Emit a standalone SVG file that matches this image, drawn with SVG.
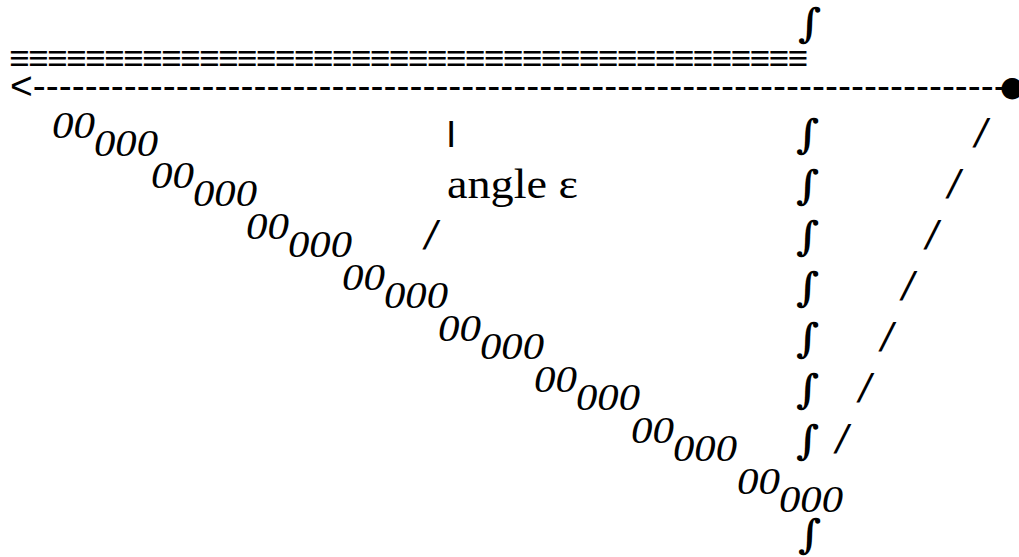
<svg xmlns="http://www.w3.org/2000/svg" width="1019" height="557" viewBox="0 0 1019 557">
<style>
text{fill:#000}
.it{font-family:"Liberation Serif",serif;font-style:italic;font-size:38px}
.ser{font-family:"Liberation Serif",serif;font-size:43px}
.int{font-family:"DejaVu Serif",serif;font-size:40px;font-weight:bold}
.sl{font-family:"DejaVu Sans",sans-serif;font-style:oblique;font-size:36px}
.sans{font-family:"Liberation Sans",sans-serif}
</style>
<rect width="1019" height="557" fill="#fff"/>
<g id="top-rules">
<text class="sans" x="9" y="70" font-size="35" font-weight="bold" textLength="799" lengthAdjust="spacing">≡≡≡≡≡≡≡≡≡≡≡≡≡≡≡≡≡≡≡≡≡≡≡≡≡≡≡≡≡≡≡≡≡≡≡≡≡≡≡≡≡≡</text>
</g>
<g id="connectors">
<text class="sans" x="10" y="99" font-size="39">&lt;---------------------------------------------------------------------------</text>
<text x="1000" y="96" font-size="28" font-family="DejaVu Sans">●</text>
</g>
<g id="integral-column" class="int">
<text x="798" y="37">∫</text>
<text x="796" y="148">∫</text>
<text x="796" y="199">∫</text>
<text x="796" y="250">∫</text>
<text x="796" y="301">∫</text>
<text x="796" y="352">∫</text>
<text x="796" y="403">∫</text>
<text x="796" y="454">∫</text>
<text x="798" y="548">∫</text>
</g>
<g id="slash-line" class="sl">
<text x="975" y="144">/</text>
<text x="948" y="195">/</text>
<text x="926" y="246">/</text>
<text x="902" y="297">/</text>
<text x="881" y="348">/</text>
<text x="859" y="399">/</text>
<text x="836" y="450">/</text>
</g>
<g id="angle-label">
<text x="446" y="147" font-size="35" font-family="DejaVu Sans">I</text>
<text class="ser" x="447" y="198" textLength="131" lengthAdjust="spacingAndGlyphs">angle ε</text>
<text class="sl" x="425" y="246">/</text>
</g>
<g id="diagonal" class="it">
<text x="52" y="138" textLength="43" lengthAdjust="spacingAndGlyphs">00</text><text x="94" y="156" textLength="64" lengthAdjust="spacingAndGlyphs">000</text>
<text x="151" y="188" textLength="43" lengthAdjust="spacingAndGlyphs">00</text><text x="193" y="206" textLength="64" lengthAdjust="spacingAndGlyphs">000</text>
<text x="246" y="239" textLength="43" lengthAdjust="spacingAndGlyphs">00</text><text x="288" y="257" textLength="64" lengthAdjust="spacingAndGlyphs">000</text>
<text x="342" y="290" textLength="43" lengthAdjust="spacingAndGlyphs">00</text><text x="384" y="308" textLength="64" lengthAdjust="spacingAndGlyphs">000</text>
<text x="438" y="341" textLength="43" lengthAdjust="spacingAndGlyphs">00</text><text x="480" y="359" textLength="64" lengthAdjust="spacingAndGlyphs">000</text>
<text x="534" y="392" textLength="43" lengthAdjust="spacingAndGlyphs">00</text><text x="576" y="410" textLength="64" lengthAdjust="spacingAndGlyphs">000</text>
<text x="631" y="443" textLength="43" lengthAdjust="spacingAndGlyphs">00</text><text x="673" y="461" textLength="64" lengthAdjust="spacingAndGlyphs">000</text>
<text x="737" y="494" textLength="43" lengthAdjust="spacingAndGlyphs">00</text><text x="779" y="512" textLength="64" lengthAdjust="spacingAndGlyphs">000</text>
</g>
</svg>
